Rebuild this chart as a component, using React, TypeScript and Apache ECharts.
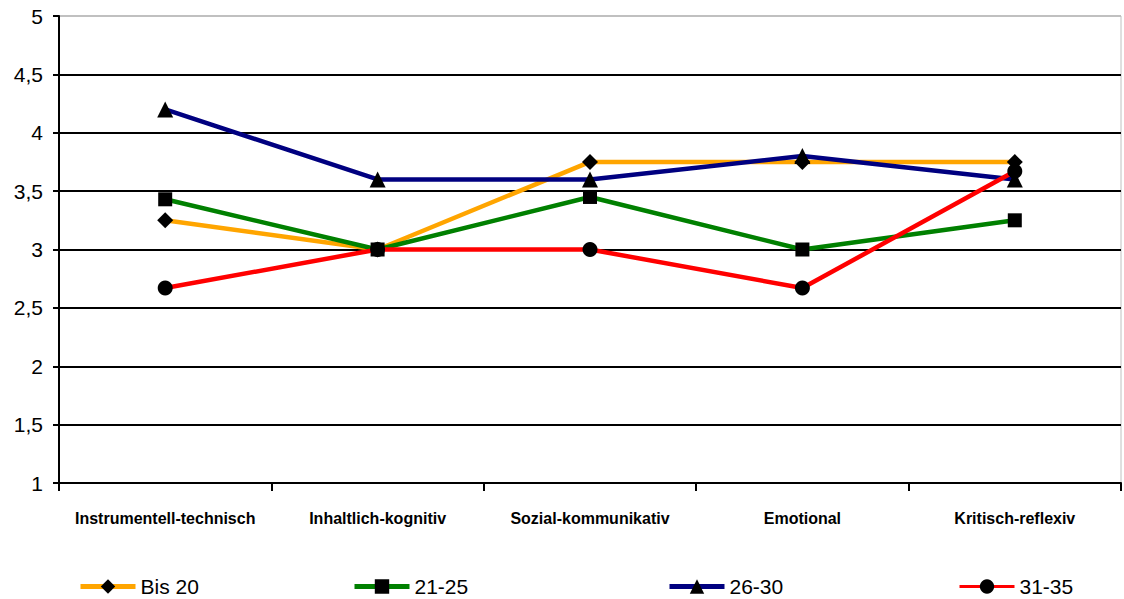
import React, { useEffect, useRef } from "react";
import * as echarts from "echarts";

const categories = [
  "Instrumentell-technisch",
  "Inhaltlich-kognitiv",
  "Sozial-kommunikativ",
  "Emotional",
  "Kritisch-reflexiv",
];
const bis20 = [3.25, 3.0, 3.75, 3.75, 3.75];
const s21_25 = [3.43, 3.0, 3.45, 3.0, 3.25];
const s26_30 = [4.2, 3.6, 3.6, 3.8, 3.6];
const s31_35 = [2.67, 3.0, 3.0, 2.67, 3.67];
const seriesNames = ["Bis 20", "21-25", "26-30", "31-35"];
const seriesColors = ["#FFA500", "#008000", "#000080", "#FF0000"];
const seriesSymbols = ["diamond", "rect", "triangle", "circle"];
const seriesSizes = [16, 14, 16, 15];
const legendLefts = [78, 352, 667, 958];
const legendLineWidths = [5, 5, 5, 3];

export default function App() {
  const ref = useRef<HTMLDivElement>(null);
  useEffect(() => {
    const chart = echarts.init(ref.current!, undefined, { renderer: "svg" });
    const data = [bis20, s21_25, s26_30, s31_35];
    const font = "'Liberation Sans', Arial, sans-serif";
    chart.setOption({
      animation: false,
      backgroundColor: "#fff",
      textStyle: { fontFamily: font },
      grid: {
        left: 59,
        top: 16,
        right: 3,
        bottom: 116,
        show: true,
        borderColor: "#c0c0c0",
        borderWidth: 1,
      },
      legend: seriesNames.map((n, i) => ({
        data: [n],
        left: legendLefts[i],
        top: 576,
        padding: 0,
        itemWidth: 55,
        itemHeight: 18,
        itemGap: 0,
        lineStyle: { width: legendLineWidths[i] },
        textStyle: { fontSize: 21, color: "#000", fontFamily: font },
      })),
      xAxis: {
        type: "category",
        data: categories,
        boundaryGap: true,
        axisLine: { lineStyle: { color: "#000", width: 2 } },
        axisTick: { show: true, length: 8, lineStyle: { color: "#000", width: 2 } },
        axisLabel: {
          fontSize: 16,
          fontWeight: "bold",
          color: "#000",
          margin: 27,
          interval: 0,
        },
      },
      yAxis: {
        type: "value",
        min: 1,
        max: 5,
        interval: 0.5,
        axisLine: { show: true, lineStyle: { color: "#000", width: 2 } },
        axisTick: { show: true, length: 6, lineStyle: { color: "#000", width: 2 } },
        axisLabel: {
          fontSize: 21,
          color: "#000",
          margin: 16,
          formatter: (v: number) => String(v).replace(".", ","),
        },
        splitLine: {
          show: true,
          lineStyle: {
            width: 2,
            color: ["#000", "#000", "#000", "#000", "#000", "#000", "#000", "#000", "#c0c0c0"],
          },
        },
      },
      series: seriesNames.map((n, i) => ({
        name: n,
        type: "line",
        data: data[i],
        symbol: seriesSymbols[i],
        symbolSize: seriesSizes[i],
        itemStyle: { color: "#000" },
        lineStyle: { color: seriesColors[i], width: 4.5 },
        z: 2 + i,
      })),
    });
    return () => chart.dispose();
  }, []);
  return <div ref={ref} style={{ width: 1124, height: 599, position: "absolute", left: 0, top: 0 }} />;
}
